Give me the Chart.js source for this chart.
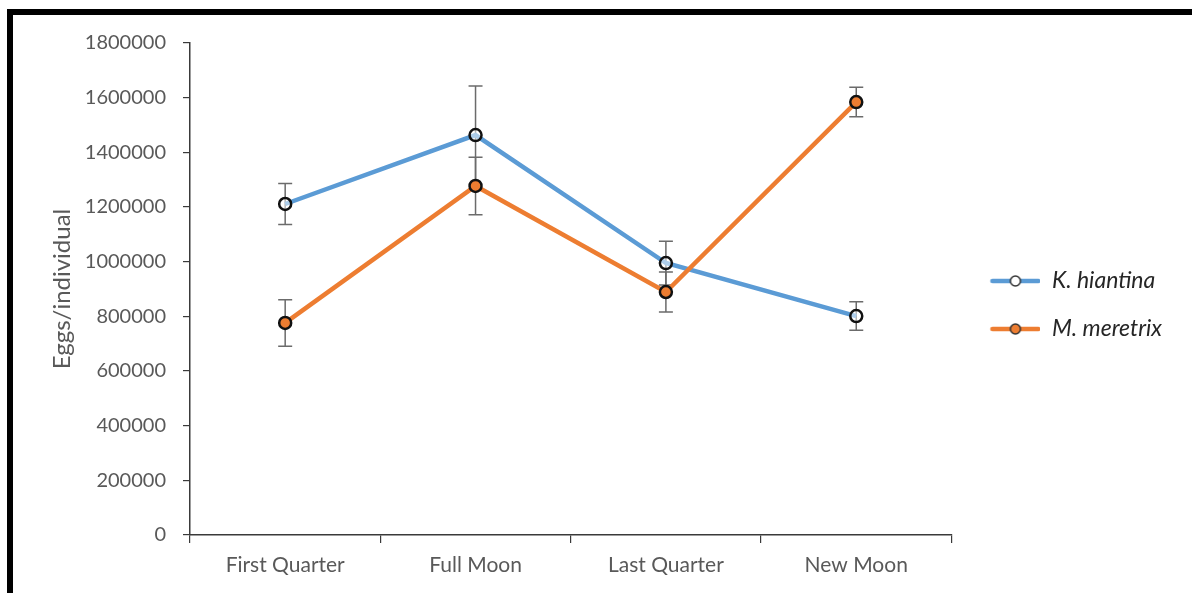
<!DOCTYPE html>
<html>
<head>
<meta charset="utf-8">
<script src="https://cdn.jsdelivr.net/npm/chart.js@4.4.1/dist/chart.umd.min.js"></script>
<style>
  html, body { margin: 0; padding: 0; background: #fff; overflow: hidden; }
  #frame { position: absolute; left: 7px; top: 9px; width: 1400px; height: 800px;
           border-top: 6px solid #000; border-left: 6px solid #000; }
  #chart { position: absolute; left: 0; top: 0; }
</style>
</head>
<body>
<div id="frame"></div>
<canvas id="chart" width="1192" height="593"></canvas>
<script>
// phases of the moon
const phases = ['First Quarter', 'Full Moon', 'Last Quarter', 'New Moon'];

// K. hiantina, eggs per individual and error
const khValues = [1211000, 1463000, 995000, 801000];
const khErrors = [75000, 180000, 80000, 52000];

// M. meretrix, eggs per individual and error
const mmValues = [776000, 1277000, 889000, 1584000];
const mmErrors = [85000, 105000, 73000, 54000];

const yMin = 0, yMax = 1800000, yStep = 200000;

const blue = '#5B9BD5';
const orange = '#ED7D31';
const greyText = '#595959';
const axisColor = '#3a3a3a';

// small line+marker icon for the legend
function legendIcon(lineColor, fill) {
  const c = document.createElement('canvas');
  c.width = 64; c.height = 16;
  const g = c.getContext('2d');
  g.strokeStyle = lineColor; g.lineWidth = 4.5; g.lineCap = 'round';
  g.beginPath(); g.moveTo(16, 8); g.lineTo(62, 8); g.stroke();
  g.beginPath(); g.arc(39, 8, 5, 0, Math.PI * 2);
  g.fillStyle = fill; g.fill();
  g.strokeStyle = '#333'; g.lineWidth = 1.5; g.stroke();
  return c;
}

const errorBars = {
  id: 'errorBars',
  beforeDatasetsDraw(chart) {
    const { ctx, scales: { x, y } } = chart;
    ctx.save();
    ctx.strokeStyle = '#6b6b6b';
    ctx.lineWidth = 1.5;
    chart.data.datasets.forEach((ds, i) => {
      if (!chart.isDatasetVisible(i)) return;
      ds.data.forEach((v, j) => {
        const px = x.getPixelForValue(j);
        const top = y.getPixelForValue(v + ds.errors[j]);
        const bot = y.getPixelForValue(v - ds.errors[j]);
        ctx.beginPath();
        ctx.moveTo(px, top); ctx.lineTo(px, bot);
        ctx.moveTo(px - 7, top); ctx.lineTo(px + 7, top);
        ctx.moveTo(px - 7, bot); ctx.lineTo(px + 7, bot);
        ctx.stroke();
      });
    });
    ctx.restore();
  }
};

// legend box runs to the canvas bottom; pull it up so the items sit like the original
const legendNudge = {
  id: 'legendNudge',
  afterLayout(chart) {
    const lg = chart.legend;
    if (lg) { lg.bottom -= 26; lg.height -= 26; }
  }
};

const kh = {
  label: 'K. hiantina',
  data: khValues,
  errors: khErrors,
  borderColor: blue,
  backgroundColor: blue,
  borderWidth: 4.5,
  pointRadius: 6,
  pointBorderWidth: 2.5,
  pointBorderColor: '#111',
  pointBackgroundColor: 'rgba(255,255,255,0.5)',
  tension: 0,
  order: 1
};
const mm = {
  label: 'M. meretrix',
  data: mmValues,
  errors: mmErrors,
  borderColor: orange,
  backgroundColor: orange,
  borderWidth: 4.5,
  pointRadius: 6,
  pointBorderWidth: 2.5,
  pointBorderColor: '#111',
  pointBackgroundColor: orange,
  tension: 0,
  order: 0
};

const baseFont = 'Lato';

new Chart(document.getElementById('chart'), {
  type: 'line',
  data: { labels: phases, datasets: [kh, mm] },
  plugins: [errorBars, legendNudge],
  options: {
    responsive: false,
    animation: false,
    layout: { padding: { left: 14, top: 43, right: 20, bottom: 0 } },
    plugins: {
      tooltip: { enabled: false },
      legend: {
        position: 'right',
        labels: {
          usePointStyle: true,
          pointStyleWidth: 64,
          padding: 25,
          color: '#262626',
          font: { family: baseFont, size: 23, style: 'italic' },
          generateLabels: chart => chart.data.datasets.map((ds, i) => ({
            text: ds.label,
            fillStyle: ds.backgroundColor,
            strokeStyle: ds.borderColor,
            lineWidth: 0,
            pointStyle: legendIcon(ds.borderColor, i === 0 ? '#fff' : ds.pointBackgroundColor),
            hidden: !chart.isDatasetVisible(i),
            datasetIndex: i,
            fontColor: '#262626'
          }))
        }
      }
    },
    scales: {
      x: {
        offset: true,
        afterFit: s => { s.height = 58; },
        grid: { offset: true, drawOnChartArea: false, tickLength: 8, color: axisColor, lineWidth: 1.2 },
        border: { color: axisColor, width: 1.5 },
        ticks: { color: greyText, padding: 10, font: { family: baseFont, size: 21 } }
      },
      y: {
        min: yMin,
        max: yMax,
        afterFit: s => { s.width = 176; },
        title: {
          display: true,
          text: 'Eggs/individual',
          color: greyText,
          padding: { top: 34, bottom: 0 },
          font: { family: baseFont, size: 24 }
        },
        grid: { drawOnChartArea: false, tickLength: 7, color: axisColor, lineWidth: 1.2 },
        border: { color: axisColor, width: 1.5 },
        ticks: {
          stepSize: yStep,
          padding: 17,
          color: greyText,
          font: { family: baseFont, size: 20 },
          callback: v => String(v)
        }
      }
    }
  }
});
</script>
</body>
</html>
